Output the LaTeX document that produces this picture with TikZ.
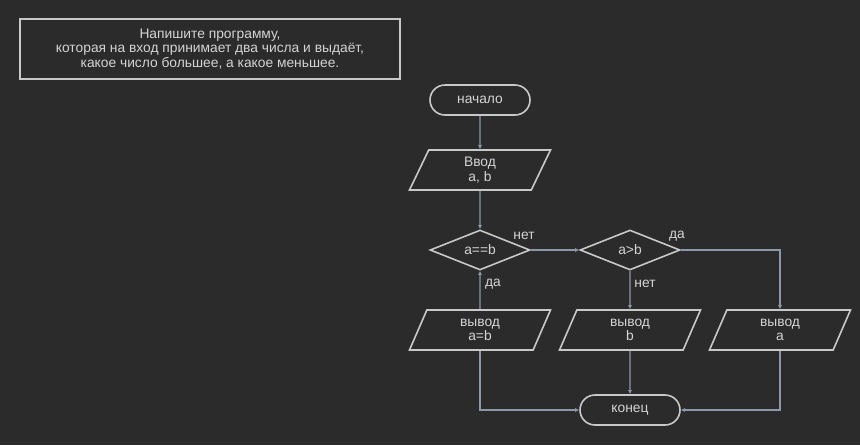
\documentclass[tikz,border=0pt]{standalone}
\usepackage{fontspec}
\setmainfont{Liberation Sans}
\usepackage{xcolor}
\definecolor{BgGray}{RGB}{43,43,43}
\definecolor{LineGray}{RGB}{200,200,200}
\definecolor{TextGray}{RGB}{212,212,212}
\definecolor{ArrowBlue}{RGB}{140,152,168}
\usetikzlibrary{shapes, shapes.geometric, arrows.meta}

\begin{document}
\begin{tikzpicture}[x=1pt,y=-1pt,
	font=\fontsize{13.8}{14.5}\selectfont, text=TextGray,
	term/.style={draw=LineGray, line width=1.6pt, rounded corners=15pt, minimum width=100pt, minimum height=30pt, inner sep=0pt},
	io/.style={draw=LineGray, line width=1.6pt, trapezium, trapezium left angle=63.4, trapezium right angle=116.6, trapezium stretches body, minimum width=141pt, minimum height=40pt, inner xsep=0pt, inner ysep=6.3pt, align=center},
	cond/.style={draw=LineGray, line width=1.6pt, diamond, aspect=2.5, minimum width=100pt, minimum height=40pt, inner sep=0pt},
	flow/.style={draw=ArrowBlue, line width=1.2pt, -{Latex[length=4pt,width=4pt]}},
	lbl/.style={inner sep=0pt}]

	\fill[BgGray] (0,0) rectangle (860,445);
	\useasboundingbox (0,0) rectangle (860,445);

	\node[draw=LineGray, line width=1.6pt, minimum width=380pt, minimum height=60pt, align=center] (task) at (210,49)
		{Напишите программу,\\которая на вход принимает два числа и выдаёт,\\какое число большее, а какое меньшее.};

	\node[term] (start) at (480,100) {начало};
	\node[io] (input) at (480,170) {Ввод\\a, b};
	\node[cond] (eq) at (480,250) {a==b};
	\node[cond] (gt) at (630,250) {a>b};
	\node[io] (outeq) at (480,330) {вывод\\a=b};
	\node[io] (outb) at (630,330) {вывод\\b};
	\node[io] (outa) at (780,330) {вывод\\a};
	\node[term] (stop) at (630,410) {конец};

	% branch labels
	\node[lbl] (eqno) at (524,236) {нет};
	\node[lbl] (gtyes) at (677,236) {да};
	\node[lbl] (eqyes) at (493,284) {да};
	\node[lbl] (gtno) at (645,284) {нет};

	\draw[flow] (start.south) -- (input.north);
	\draw[flow] (input.south) -- (eq.north);
	\draw[flow] (eq.east) -- (gt.west);
	\draw[flow] (gt.east) -| (outa.north);
	\draw[flow] (gt.south) -- (outb.north);
	\draw[flow] (outeq.north) -- (eq.south);
	\draw[flow] (outb.south) -- (stop.north);
	\draw[flow] (outeq.south) |- (stop.west);
	\draw[flow] (outa.south) |- (stop.east);
\end{tikzpicture}
\end{document}
